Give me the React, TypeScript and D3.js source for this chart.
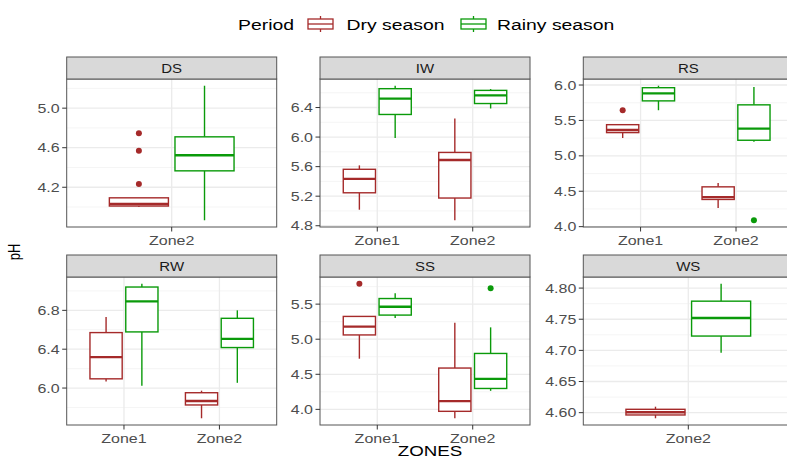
import React from 'react';
import * as d3 from 'd3';

// facets, zones and ticks
const periods = ['Dry season', 'Rainy season'];
const periodColors = ['#A52A2A', '#0A9A0A'];
const facetNames = ['DS', 'IW', 'RS', 'RW', 'SS', 'WS'];
const facetZones = [
  ['Zone2'],
  ['Zone1', 'Zone2'],
  ['Zone1', 'Zone2'],
  ['Zone1', 'Zone2'],
  ['Zone1', 'Zone2'],
  ['Zone2'],
];
const yTicks = [
  [4.2, 4.6, 5.0],
  [4.8, 5.2, 5.6, 6.0, 6.4],
  [4.0, 4.5, 5.0, 5.5, 6.0],
  [6.0, 6.4, 6.8],
  [4.0, 4.5, 5.0, 5.5],
  [4.6, 4.65, 4.7, 4.75, 4.8],
];
const tickDigits = [1, 1, 1, 1, 1, 2];

// box stats: [facet, zone, period, lower, q1, median, q3, upper, outliers]
type Box = [string, string, number, number, number, number, number, number, number[]];
const boxes: Box[] = [
  ['DS', 'Zone2', 0, 4.0, 4.01, 4.03, 4.093, 4.093, [4.746, 4.57, 4.233]],
  ['DS', 'Zone2', 1, 3.866, 4.366, 4.523, 4.71, 5.227, []],
  ['IW', 'Zone1', 0, 5.017, 5.246, 5.434, 5.564, 5.617, []],
  ['IW', 'Zone1', 1, 5.988, 6.306, 6.52, 6.655, 6.695, []],
  ['IW', 'Zone2', 0, 4.874, 5.175, 5.689, 5.792, 6.252, []],
  ['IW', 'Zone2', 1, 6.387, 6.454, 6.565, 6.632, 6.65, []],
  ['RS', 'Zone1', 0, 5.252, 5.328, 5.364, 5.44, 5.44, [5.644]],
  ['RS', 'Zone1', 1, 5.644, 5.776, 5.882, 5.962, 5.99, []],
  ['RS', 'Zone2', 0, 4.263, 4.384, 4.417, 4.562, 4.618, []],
  ['RS', 'Zone2', 1, 5.2, 5.22, 5.384, 5.72, 5.972, [4.09]],
  ['RW', 'Zone1', 0, 6.068, 6.095, 6.318, 6.571, 6.731, []],
  ['RW', 'Zone1', 1, 6.024, 6.578, 6.892, 7.04, 7.074, []],
  ['RW', 'Zone2', 0, 5.689, 5.826, 5.867, 5.952, 5.973, []],
  ['RW', 'Zone2', 1, 6.054, 6.417, 6.506, 6.718, 6.8, []],
  ['SS', 'Zone1', 0, 4.722, 5.061, 5.179, 5.325, 5.325, [5.791]],
  ['SS', 'Zone1', 1, 5.302, 5.344, 5.462, 5.58, 5.656, []],
  ['SS', 'Zone2', 0, 3.873, 3.972, 4.118, 4.589, 5.236, []],
  ['SS', 'Zone2', 1, 4.264, 4.298, 4.434, 4.797, 5.169, [5.726]],
  ['WS', 'Zone2', 0, 4.591, 4.5963, 4.6006, 4.6054, 4.6096, []],
  ['WS', 'Zone2', 1, 4.696, 4.723, 4.752, 4.779, 4.807, []],
];

const W = 787;
const H = 458;
const colLeft = [66.7, 320, 583.3];
const panelW = 210;
const stripTop = [57, 255];
const stripH = 22;
const panelBottom = [227, 425];
const SX = 1.25; // text looks horizontally stretched
const FONT = '"Liberation Sans", Arial, sans-serif';

const T = ({ x, y, size, anchor = 'start', fill = '#4D4D4D', rotate = false, children }: any) => (
  <text
    transform={`translate(${x},${y}) scale(${SX},1)${rotate ? ' rotate(-90)' : ''}`}
    fontSize={size}
    fontFamily={FONT}
    textAnchor={anchor}
    fill={fill}
  >
    {children}
  </text>
);

const Panel = ({ index }: { index: number }) => {
  const name = facetNames[index];
  const zones = facetZones[index];
  const row = Math.floor(index / 3);
  const left = colLeft[index % 3];
  const top = stripTop[row] + stripH;
  const bottom = panelBottom[row];
  const data = boxes.filter((b) => b[0] === name);
  const allVals = data.flatMap((b) => [b[3], b[7], ...b[8]]);
  const [lo, hi] = d3.extent(allVals) as [number, number];
  const pad = (hi - lo) * 0.05;
  const y = d3.scaleLinear().domain([lo - pad, hi + pad]).range([bottom, top]);
  const x = d3.scaleLinear().domain([0.4, zones.length + 0.6]).range([left, left + panelW]);
  const ticks = yTicks[index];
  const minor = ticks.slice(0, -1).map((t, i) => (t + ticks[i + 1]) / 2);
  const step = ticks[1] - ticks[0];
  minor.unshift(ticks[0] - step / 2);
  minor.push(ticks[ticks.length - 1] + step / 2);
  const minorIn = minor.filter((m) => y(m) >= top && y(m) <= bottom);
  const fmt = d3.format(`.${tickDigits[index]}f`);
  const unit = x(1) - x(0);
  const boxW = 0.3375 * unit;
  const dodge = 0.1875 * unit;

  return (
    <g>
      <rect x={left} y={top} width={panelW} height={bottom - top} fill="#fff" />
      {minorIn.map((m) => (
        <line key={'m' + m} x1={left} x2={left + panelW} y1={y(m)} y2={y(m)} stroke="#F2F2F2" strokeWidth={0.8} />
      ))}
      {ticks.map((t) => (
        <line key={'g' + t} x1={left} x2={left + panelW} y1={y(t)} y2={y(t)} stroke="#EBEBEB" strokeWidth={1.3} />
      ))}
      {zones.map((z, i) => (
        <line key={'v' + z} x1={x(i + 1)} x2={x(i + 1)} y1={top} y2={bottom} stroke="#EBEBEB" strokeWidth={1.3} />
      ))}
      {data.map((b, k) => {
        const cx = x(zones.indexOf(b[1]) + 1) + (b[2] === 0 ? -dodge : dodge);
        const c = periodColors[b[2]];
        return (
          <g key={k} stroke={c}>
            <line x1={cx} x2={cx} y1={y(b[3])} y2={y(b[4])} strokeWidth={1.4} />
            <line x1={cx} x2={cx} y1={y(b[6])} y2={y(b[7])} strokeWidth={1.4} />
            <rect
              x={cx - boxW / 2}
              y={y(b[6])}
              width={boxW}
              height={Math.max(0.5, y(b[4]) - y(b[6]))}
              fill="#fff"
              strokeWidth={1.4}
            />
            <line x1={cx - boxW / 2} x2={cx + boxW / 2} y1={y(b[5])} y2={y(b[5])} strokeWidth={2.4} />
            {b[8].map((o, j) => (
              <circle key={j} cx={cx} cy={y(o)} r={3} fill={c} stroke="none" />
            ))}
          </g>
        );
      })}
      <rect x={left} y={top} width={panelW} height={bottom - top} fill="none" stroke="#555" strokeWidth={1} />
      <rect x={left} y={stripTop[row]} width={panelW} height={stripH} fill="#D9D9D9" stroke="#555" strokeWidth={1} />
      <T x={left + panelW / 2} y={stripTop[row] + 15.5} size={12} anchor="middle" fill="#1A1A1A">
        {name}
      </T>
      {ticks.map((t) => (
        <g key={'t' + t}>
          <line x1={left - 4.5} x2={left} y1={y(t)} y2={y(t)} stroke="#333" strokeWidth={1} />
          <T x={left - 7} y={y(t) + 4.5} size={12.8} anchor="end">
            {fmt(t)}
          </T>
        </g>
      ))}
      {zones.map((z, i) => (
        <g key={'x' + z}>
          <line x1={x(i + 1)} x2={x(i + 1)} y1={bottom} y2={bottom + 4.5} stroke="#333" strokeWidth={1} />
          <T x={x(i + 1)} y={bottom + 17.5} size={12.8} anchor="middle">
            {z}
          </T>
        </g>
      ))}
    </g>
  );
};

const LegendKey = ({ x0, color }: { x0: number; color: string }) => {
  const cx = x0 + 12.5;
  return (
    <g stroke={color} fill="#fff">
      <line x1={cx} x2={cx} y1={16} y2={32} strokeWidth={1.3} />
      <rect x={x0} y={19} width={25} height={10} strokeWidth={1.3} />
      <line x1={x0} x2={x0 + 25} y1={24} y2={24} strokeWidth={1.3} />
    </g>
  );
};

export default function App() {
  return (
    <svg
      width={W}
      height={H}
      viewBox={`0 0 ${W} ${H}`}
      style={{ position: 'absolute', left: 0, top: 0, background: '#fff' }}
    >
      <rect width={W} height={H} fill="#fff" />
      <T x={238} y={30} size={15.5} fill="#000">Period</T>
      <LegendKey x0={308} color={periodColors[0]} />
      <T x={346.5} y={30} size={15.5} fill="#000">{periods[0]}</T>
      <LegendKey x0={461} color={periodColors[1]} />
      <T x={497} y={30} size={15.5} fill="#000">{periods[1]}</T>
      {facetNames.map((_, i) => (
        <Panel key={i} index={i} />
      ))}
      <T x={430} y={455.5} size={15} anchor="middle" fill="#000">ZONES</T>
      <T x={20} y={252} size={13} anchor="middle" fill="#000" rotate>pH</T>
    </svg>
  );
}
